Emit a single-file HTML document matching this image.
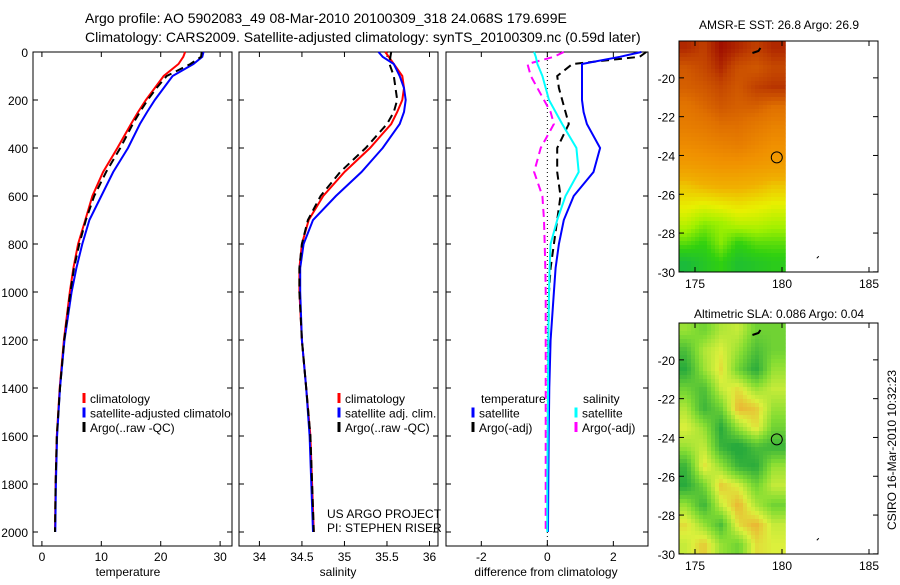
<!DOCTYPE html>
<html><head><meta charset="utf-8"><style>
body{margin:0;background:#fff;width:900px;height:580px;overflow:hidden}
svg{font-family:"Liberation Sans",sans-serif}
</style></head><body>
<svg id="c" width="900" height="580" viewBox="0 0 900 580">
<text x="85" y="23" font-size="14">Argo profile: AO 5902083_49 08-Mar-2010 20100309_318 24.068S 179.699E</text>
<text x="85" y="42" font-size="14">Climatology: CARS2009. Satellite-adjusted climatology: synTS_20100309.nc (0.59d later)</text>
<text x="779" y="29" font-size="12" text-anchor="middle">AMSR-E SST: 26.8 Argo: 26.9</text>
<text x="779" y="318" font-size="12" text-anchor="middle">Altimetric SLA: 0.086 Argo: 0.04</text>
<text transform="translate(896,450) rotate(-90)" font-size="12" text-anchor="middle">CSIRO 16-Mar-2010 10:32:23</text>
</svg>
<script>
const pres=[0,20,50,100,150,200,250,300,400,500,600,700,800,900,1000,1200,1400,1600,1800,2000];
const tClim=[24.1,23.8,23,20.5,19,17.5,16.2,15,12.7,10.3,8.5,7.3,6.1,5.3,4.7,3.7,3.0,2.5,2.3,2.2];
const tSat=[27.2,27,25.5,22,20.5,19,17.7,16.5,14.5,12,10,8,6.8,5.8,5,3.8,3.05,2.55,2.35,2.25];
const tArgo=[26.9,26.8,25,21,19.3,17.8,16.5,15.3,13.2,10.8,8.8,7.4,6.3,5.4,4.8,3.75,3.05,2.5,2.3,2.2];
const sClim=[35.48,35.52,35.58,35.68,35.7,35.68,35.62,35.55,35.3,35.0,34.75,34.58,34.5,34.47,34.47,34.5,34.55,34.6,34.62,34.64];
const sSat=[35.4,35.45,35.58,35.65,35.7,35.72,35.7,35.65,35.45,35.2,34.9,34.63,34.52,34.48,34.48,34.5,34.55,34.59,34.61,34.63];
const sArgo=[35.55,35.54,35.53,35.58,35.6,35.62,35.58,35.5,35.25,34.95,34.72,34.57,34.5,34.47,34.47,34.5,34.55,34.6,34.62,34.64];
const dTSat=[2.85,2.2,1.05,1.05,1.05,1.05,1.1,1.2,1.6,1.4,0.8,0.5,0.35,0.25,0.2,0.1,0.06,0.04,0.03,0.02];
const dTArgo=[3.0,2.8,0.76,0.3,0.35,0.45,0.55,0.65,0.3,0.3,0.4,0.3,0.2,0.1,0.05,0.03,0.03,0.02,0.02,0.0];
const dSSat=[-0.4,-0.35,-0.3,-0.15,-0.05,0.05,0.25,0.45,0.88,0.95,0.55,0.3,0.1,0.07,0.05,0.03,0.02,0.01,0.0,0.0];
const dSArgo=[0.5,0.2,-0.6,-0.5,-0.3,-0.1,0.1,0.2,-0.2,-0.4,-0.15,-0.1,-0.08,-0.06,-0.05,-0.05,-0.05,-0.05,-0.05,-0.05];
const pTicks=[0,200,400,600,800,1000,1200,1400,1600,1800,2000];
const tTicks=[0,10,20,30], sTicks=[34,34.5,35,35.5,36], dTicks=[-2,0,2];
const lonTicks=[175,180,185], latTicks=[-20,-22,-24,-26,-28,-30];
const sst=[[28.8,28.6,29,28.8,28.6,28.8],[28.3,28.5,28.8,28.4,28.3,28.5],[28.2,28.3,28.5,28.3,28.6,28.7],[27.9,28.1,28.3,28.2,28.2,28.0],[27.7,27.8,28.0,28.0,27.8,27.6],[27.4,27.5,27.6,27.7,27.5,27.3],[27.0,27.1,27.2,27.2,27.1,27.0],[26.3,26.5,26.6,26.6,26.5,26.3],[25.9,25.8,25.9,26.0,25.9,25.8],[25.5,25.2,25.3,25.5,25.5,25.4],[25.0,24.8,25.2,24.8,25.0,25.0],[24.4,24.6,24.8,24.5,24.6,24.7]];
const sla=[[0.01,-0.01,0.02,0.03,-0.01,-0.01],[-0.03,0.02,0.04,0.01,-0.03,-0.01],[-0.05,0.01,0.05,-0.01,-0.05,0.01],[-0.01,-0.03,0.03,0.05,0.01,0.03],[0.02,-0.04,-0.01,0.07,0.06,0.01],[0.04,0.01,-0.05,0.01,0.05,-0.01],[0.01,0.03,-0.04,-0.06,-0.03,-0.04],[-0.04,0.05,0.01,-0.04,-0.05,0.01],[-0.05,-0.01,0.06,0.04,-0.01,0.03],[0.01,-0.04,0.03,0.07,0.02,-0.01],[0.05,0.01,-0.03,0.05,0.07,0.03],[0.03,0.06,0.01,-0.01,0.05,0.04]];
const argoLon=179.7, argoLat=-24.1;

const S=document.getElementById('c'),NS='http://www.w3.org/2000/svg';
function mk(t,a,p){const e=document.createElementNS(NS,t);for(const k in a)e.setAttribute(k,a[k]);(p||S).appendChild(e);return e;}
const py=p=>52+p*0.24;
function panel(x0,x1,xmin,xmax,xt,xlab,xlabX,name,yl){
  const g=mk('g',{});
  
  
  const sx=v=>x0+(v-xmin)/(xmax-xmin)*(x1-x0);
  mk('rect',{x:x0,y:52,width:x1-x0,height:494,fill:'none',stroke:'#000'},g);
  pTicks.forEach(p=>{const y=py(p);mk('line',{x1:x0,x2:x0+5,y1:y,y2:y,stroke:'#000'},g);mk('line',{x1:x1,x2:x1-5,y1:y,y2:y,stroke:'#000'},g);
    if(yl){const t=mk('text',{x:x0-5,y:y+5,'font-size':12,'text-anchor':'end'},g);t.textContent=p;}});
  xt.forEach(v=>{const x=sx(v);mk('line',{x1:x,x2:x,y1:546,y2:541,stroke:'#000'},g);mk('line',{x1:x,x2:x,y1:52,y2:57,stroke:'#000'},g);
    const t=mk('text',{x:x,y:561,'font-size':12,'text-anchor':'middle'},g);t.textContent=v;});
  const t=mk('text',{x:xlabX,y:576,'font-size':12,'text-anchor':'middle'},g);t.textContent=xlab;
  return {g,sx};
}
function line(P,vals,col,dash,name,w){
  const d=vals.map((v,i)=>(i?'L':'M')+P.sx(v).toFixed(1)+','+py(pres[i]).toFixed(1)).join('');
  const e=mk('path',{d:d,fill:'none',stroke:col,'stroke-width':w||2,'stroke-dasharray':dash||'none'},P.g);
  
  
}
function legend(g,x,y,items){items.forEach((it,i)=>{mk('line',{x1:x,x2:x,y1:y+i*14.5-10,y2:y+i*14.5,stroke:it[1],'stroke-width':3},g);
  const t=mk('text',{x:x+6,y:y+i*14.5,'font-size':12},g);t.textContent=it[0];});}
const cp=mk('clipPath',{id:'cp1'});mk('rect',{x:33,y:52,width:199,height:494},cp);

const P1=panel(33,232,-1.5,32,tTicks,'temperature',128,'temperature-panel',true);
line(P1,tClim,'#f00','', 'temp-climatology-line');line(P1,tSat,'#00f','','temp-satellite-line');line(P1,tArgo,'#000','8,5','temp-argo-line');
const lg1=mk('g',{'clip-path':'url(#cp1)'},P1.g);


legend(lg1,84,403,[['climatology','#f00'],['satellite-adjusted climatology','#00f'],['Argo(..raw -QC)','#000']]);

const P2=panel(239,438,33.76,36.1,sTicks,'salinity',338,'salinity-panel',false);
line(P2,sClim,'#f00','','sal-climatology-line');line(P2,sSat,'#00f','','sal-satellite-line');line(P2,sArgo,'#000','8,5','sal-argo-line');
legend(P2.g,339,403,[['climatology','#f00'],['satellite adj. clim.','#00f'],['Argo(..raw -QC)','#000']]);
let t=mk('text',{x:327,y:518,'font-size':12},P2.g);t.textContent='US ARGO PROJECT';
t=mk('text',{x:327,y:532,'font-size':12},P2.g);t.textContent='PI: STEPHEN RISER';

const P3=panel(446,648,-3.07,3.05,dTicks,'difference from climatology',546,'difference-panel',false);
mk('line',{x1:P3.sx(0),x2:P3.sx(0),y1:52,y2:546,stroke:'#000','stroke-dasharray':'1,3'},P3.g);
line(P3,dSArgo,'#f0f','8,5','sal-diff-argo-line');line(P3,dTArgo,'#000','8,5','temp-diff-argo-line');
line(P3,dTSat,'#00f','','temp-diff-satellite-line');line(P3,dSSat,'#0ff','','sal-diff-satellite-line');
t=mk('text',{x:481,y:403,'font-size':12},P3.g);t.textContent='temperature';
t=mk('text',{x:583,y:403,'font-size':12},P3.g);t.textContent='salinity';
legend(P3.g,473,417.5,[['satellite','#00f'],['Argo(-adj)','#000']]);
legend(P3.g,576,417.5,[['satellite','#0ff'],['Argo(-adj)','#f0f']]);

function col(stops,v){if(v<=stops[0][0])return 'rgb('+stops[0][1].join(',')+')';
  for(let i=1;i<stops.length;i++){if(v<=stops[i][0]){const a=stops[i-1],b=stops[i],f=(v-a[0])/(b[0]-a[0]);
  return 'rgb('+[0,1,2].map(k=>Math.round(a[1][k]+(b[1][k]-a[1][k])*f)).join(',')+')';}}
  return 'rgb('+stops[stops.length-1][1].join(',')+')';}
const sstStops=[[24.2,[16,176,80]],[24.8,[48,208,16]],[25.3,[160,240,0]],[25.8,[232,240,0]],[26.5,[240,176,0]],[27.3,[240,144,0]],[28,[224,112,0]],[28.6,[192,64,0]],[29,[160,16,0]]];
const slaStops=[[-0.05,[40,170,60]],[0,[130,220,50]],[0.04,[220,240,60]],[0.08,[240,160,48]]];
function sample(grid,fr,fc){const R=grid.length,C=grid[0].length;
  fr=Math.max(0,Math.min(R-1,fr));fc=Math.max(0,Math.min(C-1,fc));
  const r0=Math.floor(fr),c0=Math.floor(fc),r1=Math.min(R-1,r0+1),c1=Math.min(C-1,c0+1),a=fr-r0,b=fc-c0;
  return grid[r0][c0]*(1-a)*(1-b)+grid[r0][c1]*(1-a)*b+grid[r1][c0]*a*(1-b)+grid[r1][c1]*a*b;}
function map(y0,grid,stops,name){
  const g=mk('g',{});
  
  
  const x0=679,x1=878,y1=y0+231;
  const sx=lon=>x0+(lon-174.08)*17.4, sy=lat=>y0+(-18.1-lat)*19.4;
  const xe=sx(180.2), step=4;
  for(let y=y0;y<y1;y+=step){for(let x=x0;x<xe;x+=step){
    const lon=174.08+(x+step/2-x0)/17.4, lat=-18.1-(y+step/2-y0)/19.4;
    const v=sample(grid,(-lat-18.5),(lon-174.5));
    mk('rect',{x:x,y:y,width:Math.min(step,xe-x)+0.3,height:Math.min(step,y1-y)+0.3,fill:col(stops,v)},g);
  }}
  mk('rect',{x:x0,y:y0,width:x1-x0,height:231,fill:'none',stroke:'#000'},g);
  latTicks.forEach(l=>{const y=sy(l);mk('line',{x1:x0,x2:x0+5,y1:y,y2:y,stroke:'#000'},g);mk('line',{x1:x1,x2:x1-5,y1:y,y2:y,stroke:'#000'},g);
    const tt=mk('text',{x:x0-4,y:y+5,'font-size':12,'text-anchor':'end'},g);tt.textContent=l;});
  lonTicks.forEach(l=>{const x=sx(l);mk('line',{x1:x,x2:x,y1:y1,y2:y1-5,stroke:'#000'},g);mk('line',{x1:x,x2:x,y1:y0,y2:y0+5,stroke:'#000'},g);
    const tt=mk('text',{x:x,y:y1+16,'font-size':12,'text-anchor':'middle'},g);tt.textContent=l;});
  const ci=mk('circle',{cx:sx(argoLon),cy:sy(argoLat),r:5.5,fill:'none',stroke:'#000'},g);
  
  
  mk('path',{d:`M${sx(182)},${sy(-29.3)}l2,-2`,stroke:'#000'},g);
  mk('path',{d:`M${sx(178.3)},${y0+12}l6,-2l2,-3`,stroke:'#000','stroke-width':2,fill:'none'},g);
}
map(41,sst,sstStops,'sst-map');
map(323,sla,slaStops,'sla-map');
</script>
</body></html>
